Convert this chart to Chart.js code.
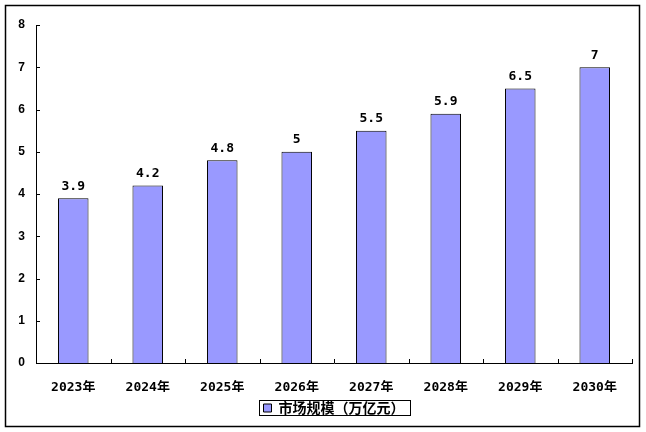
<!DOCTYPE html>
<html>
<head>
<meta charset="utf-8">
<script src="https://cdn.jsdelivr.net/npm/chart.js@4/dist/chart.umd.min.js"></script>
<style>
  html, body { margin: 0; padding: 0; background: #fff; }
  #wrap { width: 646px; height: 432px; }
</style>
</head>
<body>
<div id="wrap"><canvas id="chart"></canvas></div>
<script>
const years = ["2023年", "2024年", "2025年", "2026年", "2027年", "2028年", "2029年", "2030年"];
const marketSize = [3.9, 4.2, 4.8, 5, 5.5, 5.9, 6.5, 7];
const seriesName = "市场规模（万亿元）";

const monoFont = "'DejaVu Sans Mono', 'Noto Sans CJK SC', monospace";

// frame, tick marks, bar labels and legend box
const decorPlugin = {
  id: "decorPlugin",
  afterDraw: (chart) => {
    const { ctx, chartArea, scales, legend } = chart;
    const x = scales.x;
    const y = scales.y;

    ctx.save();
    ctx.strokeStyle = "#000";
    ctx.lineWidth = 1.5;
    ctx.strokeRect(5.5, 5.5, chart.width - 12, chart.height - 11);

    ctx.lineWidth = 1;
    ctx.beginPath();
    y.ticks.forEach((t) => {
      const py = Math.round(y.getPixelForValue(t.value)) + 0.5;
      ctx.moveTo(chartArea.left, py);
      ctx.lineTo(chartArea.left + 4, py);
    });
    for (let i = 0; i <= years.length; i++) {
      const px = Math.round(x.getPixelForValue(i - 0.5)) + 0.5;
      ctx.moveTo(px, chartArea.bottom);
      ctx.lineTo(px, chartArea.bottom - 4);
    }
    ctx.stroke();

    ctx.font = `bold 13px ${monoFont}`;
    ctx.fillStyle = "#000";
    ctx.textAlign = "center";
    ctx.textBaseline = "middle";
    chart.getDatasetMeta(0).data.forEach((bar, i) => {
      ctx.fillText(String(marketSize[i]), bar.x, bar.y - 12);
    });

    if (legend && legend.legendHitBoxes.length) {
      const hb = legend.legendHitBoxes[0];
      ctx.strokeRect(Math.round(hb.left) - 4.5, Math.round(hb.top) - 0.5, hb.width + 10, hb.height + 1);
    }
    ctx.restore();
  },
};

new Chart(document.getElementById("chart"), {
  type: "bar",
  data: {
    labels: years,
    datasets: [
      {
        label: seriesName,
        data: marketSize,
        backgroundColor: "#9999FF",
        borderColor: "#000",
        borderWidth: 1,
        barPercentage: 0.41,
        categoryPercentage: 1,
      },
    ],
  },
  options: {
    responsive: true,
    maintainAspectRatio: false,
    animation: false,
    layout: { padding: { left: 0, top: 25, right: 14, bottom: 7 } },
    plugins: {
      tooltip: { enabled: false },
      legend: {
        position: "bottom",
        fullSize: false,
        labels: {
          boxWidth: 8,
          boxHeight: 8,
          padding: 9,
          color: "#000",
          font: { family: "'Noto Sans CJK SC', sans-serif", size: 14, weight: "bold" },
          generateLabels: (chart) => [
            {
              text: seriesName,
              fillStyle: "#9999FF",
              strokeStyle: "#000",
              lineWidth: 1,
              datasetIndex: 0,
            },
          ],
        },
      },
    },
    scales: {
      x: {
        offset: true,
        grid: { display: false },
        border: { display: true, color: "#000", width: 1 },
        ticks: {
          color: "#000",
          padding: 9,
          maxRotation: 0,
          font: { family: monoFont, size: 13, weight: "bold" },
        },
        afterFit: (scale) => { scale.height = 29; },
      },
      y: {
        min: 0,
        max: 8,
        grid: { display: false },
        border: { display: true, color: "#000", width: 1 },
        ticks: {
          stepSize: 1,
          color: "#000",
          padding: 3,
          font: { family: "'Liberation Sans', Arial, sans-serif", size: 12, weight: "bold" },
        },
        afterFit: (scale) => { scale.width = 36; },
      },
    },
  },
  plugins: [decorPlugin],
});
</script>
</body>
</html>
